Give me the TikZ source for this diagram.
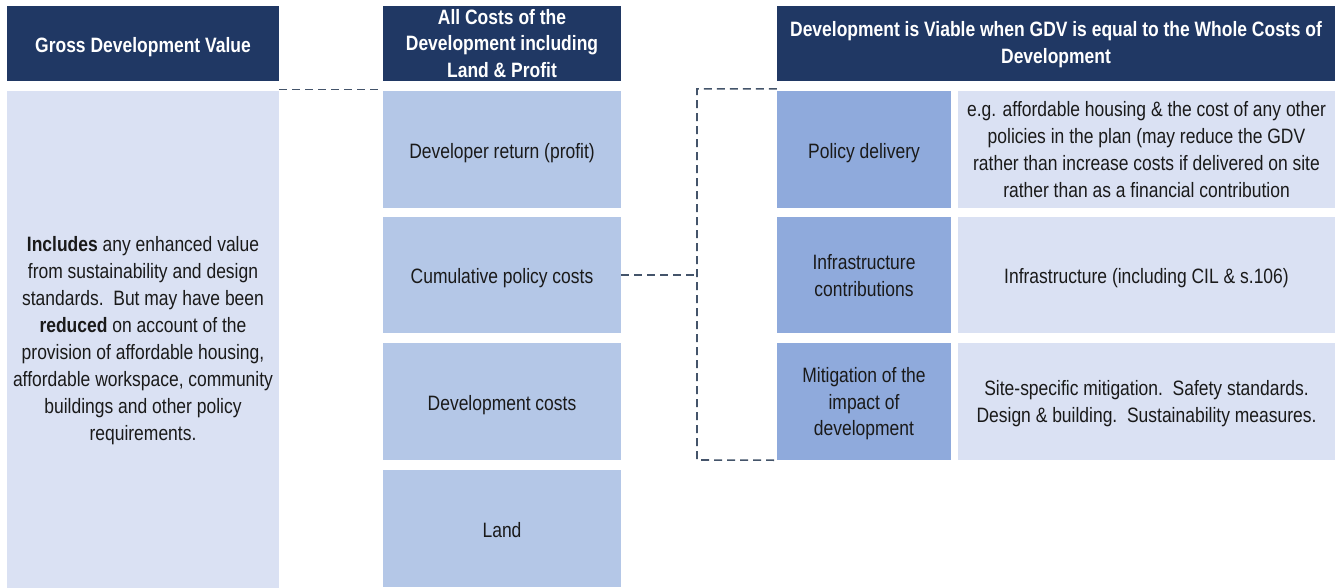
\documentclass[tikz,border=0pt]{standalone}
\usepackage{fontspec}
\setmainfont[FakeStretch=0.84]{Liberation Sans}
\definecolor{navy}{HTML}{203864}
\definecolor{paleblue}{HTML}{DAE1F3}
\definecolor{midblue}{HTML}{B4C7E7}
\definecolor{deepblue}{HTML}{8FAADC}
\definecolor{dashgrey}{HTML}{44546A}
\definecolor{ink}{HTML}{1A1A1A}
\begin{document}
\begin{tikzpicture}[x=1pt,y=-1pt,
  cell/.style={inner sep=0pt, align=center, text=ink,
    font=\fontsize{20.8}{27}\selectfont},
  header/.style={cell, fill=navy, text=white,
    font=\bfseries\fontsize{20.8}{26.5}\selectfont},
  pale/.style={cell, fill=paleblue},
  mid/.style={cell, fill=midblue},
  deep/.style={cell, fill=deepblue},
  single/.style={text height=18pt, text depth=1pt},
  % lowers a multi-line text block inside its cell
  drop/.style={text depth=#1},
  link/.style={draw=dashgrey, line width=1.6pt, dash pattern=on 8pt off 5pt}]
\useasboundingbox (0,0) rectangle (1341,587);

% Column 1: gross development value
\node[header, single, minimum width=272, minimum height=75] (h1) at (143,43.5) {Gross Development Value};
\node[pale, drop=1.4pt, minimum width=272, minimum height=497] (gdv) at (143,339.5)
  {\textbf{Includes} any enhanced value\\from sustainability and design\\standards.\ \ But may have been\\\textbf{reduced} on account of the\\provision of affordable housing,\\affordable workspace, community\\buildings and other policy\\requirements.};

% Column 2: costs of development
\node[header, minimum width=238, minimum height=75] (h2) at (502,43.5) {All Costs of the\\Development including\\Land \& Profit};
\node[mid, single, minimum width=238, minimum height=117] (c1) at (502,149.5) {Developer return (profit)};
\node[mid, single, minimum width=238, minimum height=116] (c2) at (502,275) {Cumulative policy costs};
\node[mid, single, minimum width=238, minimum height=117] (c3) at (502,401.5) {Development costs};
\node[mid, single, minimum width=238, minimum height=117] (c4) at (502,528.5) {Land};

% Column 3: viability breakdown
\node[header, drop=2.4pt, minimum width=558, minimum height=75] (h3) at (1056,43.5) {Development is Viable when GDV is equal to the Whole Costs of\\Development};
\node[deep, single, minimum width=174, minimum height=117] (r1a) at (864,149.5) {Policy delivery};
\node[pale, minimum width=377, minimum height=117] (r1b) at (1146.5,149.5)
  {e.g. affordable housing \& the cost of any other\\policies in the plan (may reduce the GDV\\rather than increase costs if delivered on site\\rather than as a financial contribution};
\node[deep, drop=-3.8pt, minimum width=174, minimum height=116] (r2a) at (864,275) {Infrastructure\\contributions};
\node[pale, single, minimum width=377, minimum height=116] (r2b) at (1146.5,275) {Infrastructure (including CIL \& s.106)};
\node[deep, drop=-2.6pt, minimum width=174, minimum height=117] (r3a) at (864,401.5) {Mitigation of the\\[-0.5pt]impact of\\[-0.5pt]development};
\node[pale, drop=-5.6pt, minimum width=377, minimum height=117] (r3b) at (1146.5,401.5)
  {Site-specific mitigation.\ \ Safety standards.\\Design \& building.\ \ Sustainability measures.};

% Dashed links
\coordinate (jt) at (697,89);
\coordinate (jb) at (697,460);
\draw[link] ([yshift=1.5pt]gdv.north east) -- ([yshift=1.5pt]c1.north west);
\draw[link] (c2.east) -- (c2.east -| jt);
\draw[link] ([yshift=2pt]r1a.north west) -| (jb) -- (r3a.south west);
\end{tikzpicture}
\end{document}
